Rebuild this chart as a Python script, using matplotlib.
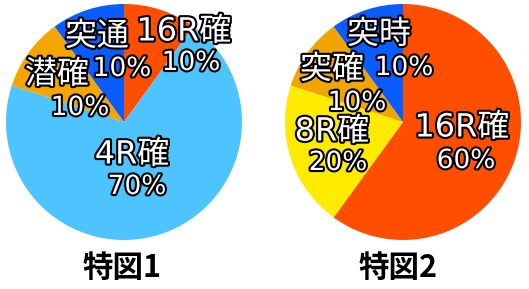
import matplotlib.pyplot as plt
import matplotlib.patheffects as pe

plt.rcParams['font.family'] = ['DejaVu Sans', 'Noto Sans CJK JP']

W, H = 529, 289
R = 118

# 特図1
labels1 = ['16R確', '4R確', '潜確', '突通']
values1 = [10, 70, 10, 10]
colors1 = ['#FF4E00', '#4DC3FF', '#F5A500', '#0A5CFF']

# 特図2
labels2 = ['16R確', '8R確', '突確', '突時']
values2 = [60, 20, 10, 10]
colors2 = ['#FF4E00', '#FFEB00', '#F2A500', '#0A5CFF']

titles = ['特図1', '特図2']

# label anchor points (pixels from top-left): name line, percent line
pos1 = [((184, 32), (191, 63)), ((132, 155), (137, 187)),
        ((57, 75), (80, 108)), ((97, 37), (122, 69))]
pos2 = [((462, 128), (466, 161)), ((332, 132), (338, 163)),
        ((332, 70), (357, 103)), ((379, 35), (404, 68))]
centers = [(124, 122), (403, 122)]
title_pos = [(122, 268), (398, 268)]

fig = plt.figure(figsize=(W / 100, H / 100), dpi=100)
ax = fig.add_axes([0, 0, 1, 1])

stroke = [pe.withStroke(linewidth=3, foreground='black')]

for (cx, cy), labels, values, colors, pos, title, tp in zip(
        centers, [labels1, labels2], [values1, values2],
        [colors1, colors2], [pos1, pos2], titles, title_pos):
    ax.pie(values, colors=colors, startangle=90, counterclock=False,
           center=(cx, H - cy), radius=R, frame=True)
    for lab, v, (p1, p2) in zip(labels, values, pos):
        ax.text(p1[0], H - p1[1], lab, ha='center', va='center',
                fontsize=23, color='white', path_effects=stroke)
        ax.text(p2[0], H - p2[1], f'{v}%', ha='center', va='center',
                fontsize=19, color='white', path_effects=stroke)
    ax.text(tp[0], H - tp[1], title, ha='center', va='center',
            fontsize=22, fontweight='bold', color='black',
            family=['Noto Sans CJK JP'])

ax.set_xlim(0, W)
ax.set_ylim(0, H)
ax.set_aspect('auto')
ax.axis('off')

fig.savefig('out.png', dpi=100)
